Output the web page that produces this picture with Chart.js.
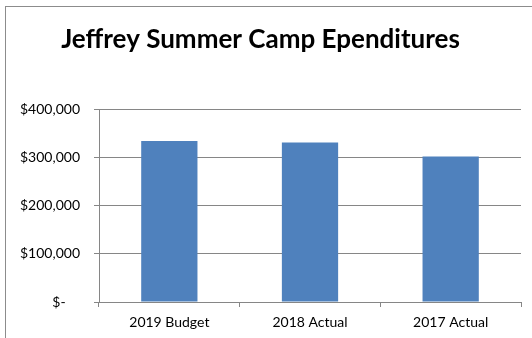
<!DOCTYPE html>
<html>
<head>
<meta charset="utf-8">
<script src="https://cdn.jsdelivr.net/npm/chart.js@4"></script>
<style>
  html, body { margin: 0; padding: 0; background: #fff; }
  #wrap { width: 532px; height: 338px; }
</style>
</head>
<body>
<div id="wrap"><canvas id="campChart" width="532" height="338"></canvas></div>
<script>
const categories = ['2019 Budget', '2018 Actual', '2017 Actual'];
const expenditures = [334000, 331000, 302000];
const yTicks = [0, 100000, 200000, 300000, 400000];

const FONT = 'Lato, Calibri, "Open Sans", sans-serif';
const GRID = '#868686';

// outer frame of the chart object, runs off the right and bottom edges
const frame = {
    id: 'frame',
    beforeDraw(chart) {
        const ctx = chart.ctx;
        ctx.save();
        ctx.strokeStyle = '#8c8c8c';
        ctx.lineWidth = 1;
        ctx.strokeRect(5.5, 6.5, 700, 500);
        ctx.restore();
    }
};

function money(v) {
    if (v === 0) return '$-    ';
    return '$' + v.toLocaleString('en-US');
}

const ctx = document.getElementById('campChart').getContext('2d');
const chart = new Chart(ctx, {
    type: 'bar',
    data: {
        labels: categories,
        datasets: [{
            label: 'Expenditures',
            data: expenditures,
            backgroundColor: '#4f81bd',
            borderColor: '#4f81bd',
            borderWidth: 0,
            barPercentage: 0.4,
            categoryPercentage: 1.0
        }]
    },
    options: {
        responsive: false,
        animation: false,
        layout: { padding: { left: 0, right: 11, top: 0, bottom: 0 } },
        plugins: {
            legend: { display: false },
            tooltip: { enabled: false },
            title: {
                display: true,
                text: 'Jeffrey Summer Camp Ependitures',
                color: '#000',
                font: { family: FONT, size: 26, weight: 'bold' },
                padding: { top: 24, bottom: 54 }
            }
        },
        scales: {
            x: {
                grid: {
                    display: true,
                    drawOnChartArea: false,
                    drawTicks: true,
                    tickLength: 5,
                    color: GRID
                },
                border: { display: true, color: GRID },
                ticks: {
                    color: '#000',
                    font: { family: FONT, size: 14 },
                    padding: 7
                },
                afterFit(scale) { scale.height = 36; }
            },
            y: {
                min: 0,
                max: 400000,
                afterBuildTicks(scale) {
                    scale.ticks = yTicks.map(v => ({ value: v }));
                },
                grid: {
                    color: GRID,
                    drawTicks: true,
                    tickLength: 5
                },
                border: { display: true, color: GRID },
                ticks: {
                    color: '#000',
                    font: { family: FONT, size: 14 },
                    padding: 14,
                    callback: v => money(v)
                },
                afterFit(scale) { scale.width = 99; }
            }
        }
    },
    plugins: [frame]
});
</script>
</body>
</html>
